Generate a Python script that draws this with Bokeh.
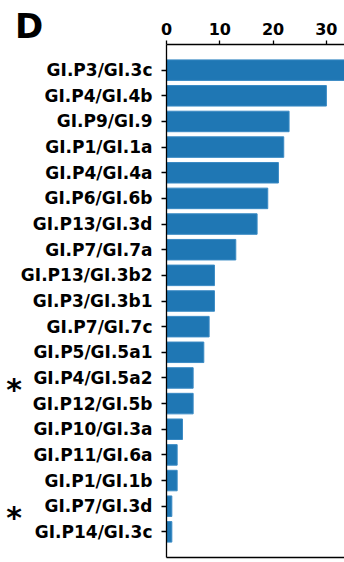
from bokeh.plotting import figure
from bokeh.models import (ColumnDataSource, FactorRange, Range1d, FixedTicker,
                          LinearAxis, GridBox, Div)
from bokeh.embed import file_html
from bokeh.resources import INLINE

categories = ["GI.P3/GI.3c", "GI.P4/GI.4b", "GI.P9/GI.9", "GI.P1/GI.1a",
              "GI.P4/GI.4a", "GI.P6/GI.6b", "GI.P13/GI.3d", "GI.P7/GI.7a",
              "GI.P13/GI.3b2", "GI.P3/GI.3b1", "GI.P7/GI.7c", "GI.P5/GI.5a1",
              "GI.P4/GI.5a2", "GI.P12/GI.5b", "GI.P10/GI.3a", "GI.P11/GI.6a",
              "GI.P1/GI.1b", "GI.P7/GI.3d", "GI.P14/GI.3c"]
values = [35, 30, 23, 22, 21, 19, 17, 13, 9, 9, 8, 7, 5, 5, 3, 2, 2, 1, 1]
x_ticks = [0, 10, 20, 30]
starred = ["GI.P4/GI.5a2", "GI.P7/GI.3d"]
panel_label = "D"

FONT = "DejaVu Sans"
BLUE = "#1f77b4"
W, H = 344, 562
TOP, BOTTOM, LEFT = 44, 5, 166
PAD = 0.5  # factor padding on each side

src = ColumnDataSource(data=dict(cat=categories, val=values))
factors = list(reversed(categories))
yr = FactorRange(factors=factors, range_padding=PAD, range_padding_units="absolute")

# ---- main chart ----
p = figure(width=W, height=H, output_backend="svg", toolbar_location=None,
           y_range=yr, x_range=Range1d(0, 33.4), x_axis_location="above",
           min_border_left=LEFT, min_border_right=0, min_border_top=TOP,
           min_border_bottom=BOTTOM)

p.hbar(y="cat", left=0, right="val", height=0.8, source=src,
       fill_color=BLUE, line_color="#3a8ac4", line_width=1)

p.xgrid.visible = False
p.ygrid.visible = False
p.outline_line_color = None
p.background_fill_color = "white"
p.border_fill_color = "white"

xa = p.xaxis[0]
xa.ticker = FixedTicker(ticks=x_ticks)
xa.minor_tick_line_color = None
xa.major_tick_in = 0
xa.major_tick_out = 4
xa.major_label_standoff = 6
xa.axis_line_width = 1.3
xa.major_tick_line_width = 1.3
xa.major_label_text_font = FONT
xa.major_label_text_font_style = "bold"
xa.major_label_text_font_size = "16px"
xa.major_label_text_color = "black"

ya = p.yaxis[0]
ya.major_tick_in = 0
ya.major_tick_out = 5
ya.major_label_standoff = 9
ya.axis_line_width = 1.3
ya.major_tick_line_width = 1.3
ya.major_label_text_font = FONT
ya.major_label_text_font_style = "bold"
ya.major_label_text_font_size = "17px"
ya.major_label_text_color = "black"

bottom = LinearAxis(ticker=FixedTicker(ticks=[]), major_tick_out=0, major_tick_in=0,
                    major_label_standoff=0, major_label_text_font_size="0px",
                    minor_tick_line_color=None, axis_line_width=1.3)
p.add_layout(bottom, "below")

# ---- overlay (outside the plot frame): panel letter and asterisks ----
n = len(categories)
ppu = (H - TOP - BOTTOM) / (n + 2 * PAD)   # pixels per factor row in the frame
base = ("position:absolute;margin:0;padding:0;font-family:'DejaVu Sans';"
        "font-weight:bold;color:black;line-height:1;white-space:nowrap;")
spans = [f'<span style="{base}left:10px;top:4px;font-size:34px;">{panel_label}</span>']
for s in starred:
    yc = TOP + (categories.index(s) + 0.5 + PAD) * ppu   # row centre
    top = yc - 7.9
    spans.append(f'<span style="{base}left:0px;width:18px;text-align:center;'
                 f'top:{top:.1f}px;font-size:30px;">*</span>')
html = (f'<div style="position:relative;width:{W}px;height:{H}px;">'
        + "".join(spans) + "</div>")
overlay = Div(text=html, width=W, height=H)

grid = GridBox(children=[(p, 0, 0), (overlay, 0, 0)])

open("out.html", "w").write(file_html(grid, INLINE))
